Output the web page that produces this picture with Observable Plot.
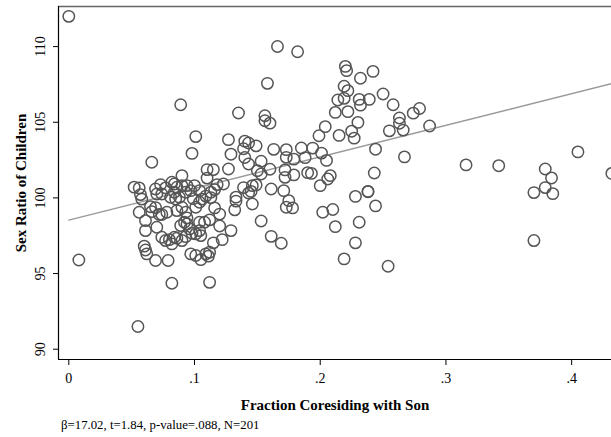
<!DOCTYPE html>
<html>
<head>
<meta charset="utf-8">
<script src="https://cdn.jsdelivr.net/npm/d3@7"></script>
<script src="https://cdn.jsdelivr.net/npm/@observablehq/plot@0.6"></script>
<style>
  body { margin: 0; background: white; }
  #chart svg { display: block; }
</style>
</head>
<body>
<div id="chart"></div>
<script>
// fraction coresiding with son (x) and sex ratio of children (y)
const sonFrac = [
  0.000, 0.008, 0.055, 0.066, 0.089, 0.082, 0.112, 0.079, 0.069,
  0.052, 0.056, 0.057, 0.058, 0.056, 0.061, 0.061, 0.060, 0.061, 0.062,
  0.065, 0.069, 0.066, 0.070, 0.069, 0.073, 0.077, 0.070, 0.074,
  0.082, 0.084, 0.086, 0.084, 0.081, 0.085, 0.088, 0.090, 0.090, 0.094, 0.100, 0.104, 0.093, 0.097,
  0.078, 0.086, 0.090, 0.093, 0.101, 0.104, 0.072, 0.074,
  0.089, 0.092, 0.094, 0.094, 0.096, 0.098, 0.101, 0.104,
  0.074, 0.077, 0.080, 0.084, 0.086, 0.090, 0.082, 0.093, 0.105,
  0.097, 0.101, 0.105, 0.098, 0.101,
  0.110, 0.115, 0.127, 0.110, 0.127, 0.129, 0.140, 0.143, 0.149, 0.139, 0.140, 0.143,
  0.135, 0.156, 0.156, 0.160, 0.153, 0.150, 0.153, 0.160, 0.163, 0.158, 0.166,
  0.139, 0.146, 0.149, 0.143, 0.145, 0.133, 0.133, 0.132, 0.146, 0.161,
  0.120, 0.116, 0.112, 0.108, 0.104, 0.120, 0.129, 0.122, 0.115, 0.112, 0.109, 0.111,
  0.153, 0.161, 0.169,
  0.123, 0.118, 0.116, 0.113, 0.109, 0.113, 0.106, 0.099,
  0.173, 0.185, 0.194, 0.173, 0.179, 0.188, 0.201, 0.205,
  0.172, 0.172, 0.179, 0.190, 0.193, 0.208, 0.206, 0.200, 0.171, 0.175, 0.173, 0.178, 0.202, 0.210, 0.212,
  0.228, 0.238, 0.231, 0.228, 0.219,
  0.182, 0.220, 0.221, 0.242, 0.232, 0.219, 0.222, 0.214, 0.219, 0.231, 0.232, 0.239, 0.250, 0.258, 0.279, 0.274, 0.263, 0.263, 0.266, 0.255, 0.287,
  0.212, 0.222, 0.230, 0.225, 0.227, 0.215, 0.204, 0.199, 0.244, 0.267, 0.243, 0.238, 0.244, 0.254,
  0.316, 0.342, 0.379, 0.384, 0.379, 0.370, 0.385, 0.370, 0.405, 0.432
];
const sexRatio = [
  112.0, 95.9, 91.5, 102.36, 106.16, 94.36, 94.42, 95.86, 95.86,
  100.71, 100.66, 100.22, 99.92, 99.05, 98.50, 97.84, 96.81, 96.56, 96.30,
  99.42, 99.36, 99.09, 98.06, 100.59, 100.88, 100.66, 100.26, 100.26,
  101.03, 100.92, 100.70, 100.37, 100.04, 99.93, 100.04, 101.47, 100.81, 100.81, 100.81, 100.48, 100.37, 100.48,
  99.05, 99.16, 99.38, 99.05, 99.38, 99.71, 98.90, 98.90,
  98.17, 98.39, 98.68, 98.28, 97.95, 97.66, 97.62, 97.84,
  97.40, 97.18, 97.24, 97.40, 97.33, 97.18, 96.96, 97.44, 97.51,
  96.30, 96.19, 95.92, 102.94, 104.05,
  101.87, 101.87, 101.91, 101.31, 103.85, 102.89, 103.75, 103.63, 103.44, 103.25, 102.67, 102.24,
  105.61, 105.43, 105.10, 104.94, 102.42, 101.80, 101.58, 101.89, 103.21, 107.57, 110.01,
  100.68, 100.81, 100.86, 100.32, 100.43, 100.05, 99.79, 99.21, 99.60, 100.59,
  98.93, 99.34, 98.55, 98.39, 98.39, 98.14, 97.84, 97.24, 97.03, 96.41, 96.30, 96.15,
  98.47, 97.46, 97.00,
  100.92, 100.88, 100.55, 100.38, 100.12, 100.02, 99.92, 99.95,
  103.19, 103.30, 103.29, 102.68, 102.56, 102.66, 102.96, 102.48,
  101.85, 101.36, 101.52, 101.67, 101.62, 101.47, 101.25, 100.81, 100.48, 99.82, 99.38, 99.34, 99.05, 99.23, 98.10,
  100.10, 100.43, 98.39, 97.03, 95.97,
  109.66, 108.69, 108.41, 108.36, 107.91, 107.38, 107.09, 106.47, 106.58, 106.51, 106.13, 106.51, 106.87, 106.16, 105.91, 105.60, 105.28, 104.93, 104.48, 104.43, 104.75,
  105.65, 105.70, 104.99, 104.41, 103.95, 104.13, 104.71, 104.11, 103.22, 102.71, 101.65, 100.41, 99.47, 95.48,
  102.18, 102.13, 101.91, 101.32, 100.68, 100.35, 100.28, 97.18, 103.04, 101.62
];

const xTicks = [0, 0.1, 0.2, 0.3, 0.4];
const xTickLabels = ["0", ".1", ".2", ".3", ".4"];
const yTicks = [90, 95, 100, 105, 110];

// fitted line as drawn in the picture
const fitIntercept = 98.53;
const fitSlope = 20.9;

const xDomain = [-0.0082, 0.4317];
const yDomain = [89.32, 112.65];

const points = sonFrac.map((x, i) => ({x, y: sexRatio[i]}));
const fitLine = xDomain.map(x => ({x: Math.max(x, 0), y: fitIntercept + fitSlope * Math.max(x, 0)}));

const W = 611, H = 437;

const chart = Plot.plot({
  width: W,
  height: H,
  marginLeft: 58,
  marginRight: 0,
  marginTop: 6,
  marginBottom: 78,
  style: {fontFamily: "Liberation Serif, Times New Roman, serif", fontSize: "14px", background: "white", color: "black"},
  x: {domain: xDomain},
  y: {domain: yDomain},
  marks: [
    Plot.ruleY([yDomain[1]], {stroke: "#666", strokeWidth: 1.5}),
    Plot.line(fitLine, {x: "x", y: "y", stroke: "#999", strokeWidth: 1.4}),
    Plot.dot(points, {x: "x", y: "y", r: 5.7, stroke: "#555", strokeWidth: 1.5, fill: "none"}),
    Plot.ruleX([xDomain[0]], {stroke: "black", strokeWidth: 1.2}),
    Plot.ruleY([yDomain[0]], {stroke: "black", strokeWidth: 1.2}),
    Plot.axisX(xTicks, {anchor: "bottom", tickSize: 6, tickPadding: 8, fontSize: 14,
      tickFormat: (d, i) => xTickLabels[i], label: null}),
    Plot.axisY(yTicks, {anchor: "left", tickSize: 5, tickFormat: () => "", label: null}),
    Plot.text(yTicks, {y: d => d, text: d => String(d), frameAnchor: "left", dx: -18,
      rotate: -90, textAnchor: "middle", lineAnchor: "middle", fontSize: 14})
  ]
});

const svg = d3.select(chart);
svg.append("text")
  .attr("transform", "translate(26,183) rotate(-90)")
  .attr("text-anchor", "middle")
  .attr("font-weight", "bold")
  .attr("font-size", 15)
  .text("Sex Ratio of Children");
svg.append("text")
  .attr("x", 335).attr("y", 410)
  .attr("text-anchor", "middle")
  .attr("font-weight", "bold")
  .attr("font-size", 15)
  .text("Fraction Coresiding with Son");
svg.append("text")
  .attr("x", 61).attr("y", 429)
  .attr("text-anchor", "start")
  .attr("font-size", 12.8)
  .text("β=17.02, t=1.84, p-value=.088, N=201");

d3.select('#chart').append(() => chart);
</script>
</body>
</html>
